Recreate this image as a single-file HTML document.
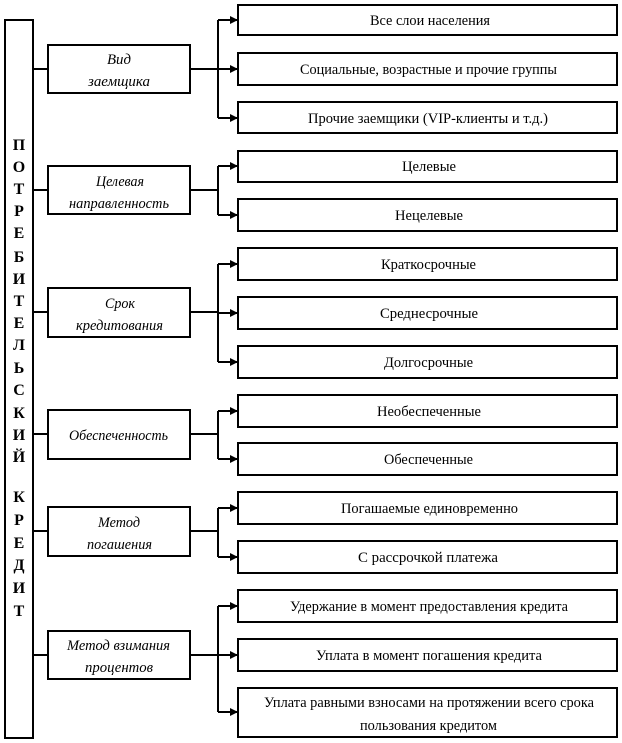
<!DOCTYPE html>
<html><head><meta charset="utf-8"><style>
html,body{margin:0;padding:0;background:#fff;}
svg{display:block;}
text{font-family:"Liberation Serif","Noto Serif CJK SC",serif;fill:#000;}
.r{font-size:15px;}
.m{font-size:15px;font-style:italic;}
.l{font-size:16px;font-weight:bold;text-anchor:middle;}
</style></head><body>
<svg width="622" height="743" viewBox="0 0 622 743" xmlns="http://www.w3.org/2000/svg">
<defs><marker id="a" markerWidth="8" markerHeight="8" refX="7" refY="4" orient="auto" markerUnits="userSpaceOnUse"><path d="M0,0 L8,4 L0,8 z" fill="#000"/></marker></defs>
<g fill="none" stroke="#000" stroke-width="2">
<rect x="5" y="20" width="28" height="718"/>
<rect x="48" y="45" width="142" height="48"/>
<rect x="48" y="166" width="142" height="48"/>
<rect x="48" y="288" width="142" height="49"/>
<rect x="48" y="410" width="142" height="49"/>
<rect x="48" y="507" width="142" height="49"/>
<rect x="48" y="631" width="142" height="48"/>
<rect x="238" y="5" width="379" height="30"/>
<rect x="238" y="53" width="379" height="32"/>
<rect x="238" y="102" width="379" height="31"/>
<rect x="238" y="151" width="379" height="31"/>
<rect x="238" y="199" width="379" height="32"/>
<rect x="238" y="248" width="379" height="32"/>
<rect x="238" y="297" width="379" height="32"/>
<rect x="238" y="346" width="379" height="32"/>
<rect x="238" y="395" width="379" height="32"/>
<rect x="238" y="443" width="379" height="32"/>
<rect x="238" y="492" width="379" height="32"/>
<rect x="238" y="541" width="379" height="32"/>
<rect x="238" y="590" width="379" height="32"/>
<rect x="238" y="639" width="379" height="32"/>
<rect x="238" y="688" width="379" height="49"/>
<path d="M33 69H48M33 190H48M33 312H48M33 434H48M33 531H48M33 655H48"/>
<path d="M190 69H218M190 190H218M190 312H218M190 434H218M190 531H218M190 655H218"/>
<path d="M218 20V118M218 166V215M218 264V362M218 411V459M218 508V557M218 606V712"/>
<g marker-end="url(#a)">
<path d="M218 20H237"/><path d="M218 69H237"/><path d="M218 118H237"/>
<path d="M218 166H237"/><path d="M218 215H237"/>
<path d="M218 264H237"/><path d="M218 313H237"/><path d="M218 362H237"/>
<path d="M218 411H237"/><path d="M218 459H237"/>
<path d="M218 508H237"/><path d="M218 557H237"/>
<path d="M218 606H237"/><path d="M218 655H237"/><path d="M218 712H237"/>
</g>
</g>
<g class="l">
<text x="19" y="150">П</text><text x="19" y="172">О</text><text x="19" y="194">Т</text><text x="19" y="216">Р</text><text x="19" y="238">Е</text><text x="19" y="262">Б</text><text x="19" y="284">И</text><text x="19" y="306">Т</text><text x="19" y="328">Е</text><text x="19" y="350">Л</text><text x="19" y="373">Ь</text><text x="19" y="395">С</text><text x="19" y="418">К</text><text x="19" y="440">И</text><text x="19" y="462">Й</text>
<text x="19" y="502">К</text><text x="19" y="525">Р</text><text x="19" y="548">Е</text><text x="19" y="570">Д</text><text x="19" y="593">И</text><text x="19" y="616">Т</text>
</g>
<g class="m">
<text x="107" y="64" textLength="24" lengthAdjust="spacingAndGlyphs">Вид</text>
<text x="88" y="86" textLength="62" lengthAdjust="spacingAndGlyphs">заемщика</text>
<text x="96" y="186" textLength="48" lengthAdjust="spacingAndGlyphs">Целевая</text>
<text x="69" y="208" textLength="100" lengthAdjust="spacingAndGlyphs">направленность</text>
<text x="105" y="308" textLength="30" lengthAdjust="spacingAndGlyphs">Срок</text>
<text x="76" y="330" textLength="87" lengthAdjust="spacingAndGlyphs">кредитования</text>
<text x="69" y="440" textLength="99" lengthAdjust="spacingAndGlyphs">Обеспеченность</text>
<text x="98" y="527" textLength="42" lengthAdjust="spacingAndGlyphs">Метод</text>
<text x="87" y="549" textLength="65" lengthAdjust="spacingAndGlyphs">погашения</text>
<text x="67" y="650" textLength="103" lengthAdjust="spacingAndGlyphs">Метод взимания</text>
<text x="85" y="672" textLength="68" lengthAdjust="spacingAndGlyphs">процентов</text>
</g>
<g class="r">
<text x="370" y="25" textLength="120" lengthAdjust="spacingAndGlyphs">Все слои населения</text>
<text x="300" y="74" textLength="257" lengthAdjust="spacingAndGlyphs">Социальные, возрастные и прочие группы</text>
<text x="308" y="123" textLength="240" lengthAdjust="spacingAndGlyphs">Прочие заемщики (VIP-клиенты и т.д.)</text>
<text x="402" y="171" textLength="54" lengthAdjust="spacingAndGlyphs">Целевые</text>
<text x="395" y="220" textLength="68" lengthAdjust="spacingAndGlyphs">Нецелевые</text>
<text x="381" y="269" textLength="95" lengthAdjust="spacingAndGlyphs">Краткосрочные</text>
<text x="380" y="318" textLength="98" lengthAdjust="spacingAndGlyphs">Среднесрочные</text>
<text x="384" y="367" textLength="89" lengthAdjust="spacingAndGlyphs">Долгосрочные</text>
<text x="377" y="416" textLength="104" lengthAdjust="spacingAndGlyphs">Необеспеченные</text>
<text x="384" y="464" textLength="89" lengthAdjust="spacingAndGlyphs">Обеспеченные</text>
<text x="341" y="513" textLength="177" lengthAdjust="spacingAndGlyphs">Погашаемые единовременно</text>
<text x="358" y="562" textLength="140" lengthAdjust="spacingAndGlyphs">С рассрочкой платежа</text>
<text x="290" y="611" textLength="278" lengthAdjust="spacingAndGlyphs">Удержание в момент предоставления кредита</text>
<text x="316" y="660" textLength="226" lengthAdjust="spacingAndGlyphs">Уплата в момент погашения кредита</text>
<text x="264" y="707" textLength="330" lengthAdjust="spacingAndGlyphs">Уплата равными взносами на протяжении всего срока</text>
<text x="360" y="730" textLength="137" lengthAdjust="spacingAndGlyphs">пользования кредитом</text>
</g>
</svg>
</body></html>
